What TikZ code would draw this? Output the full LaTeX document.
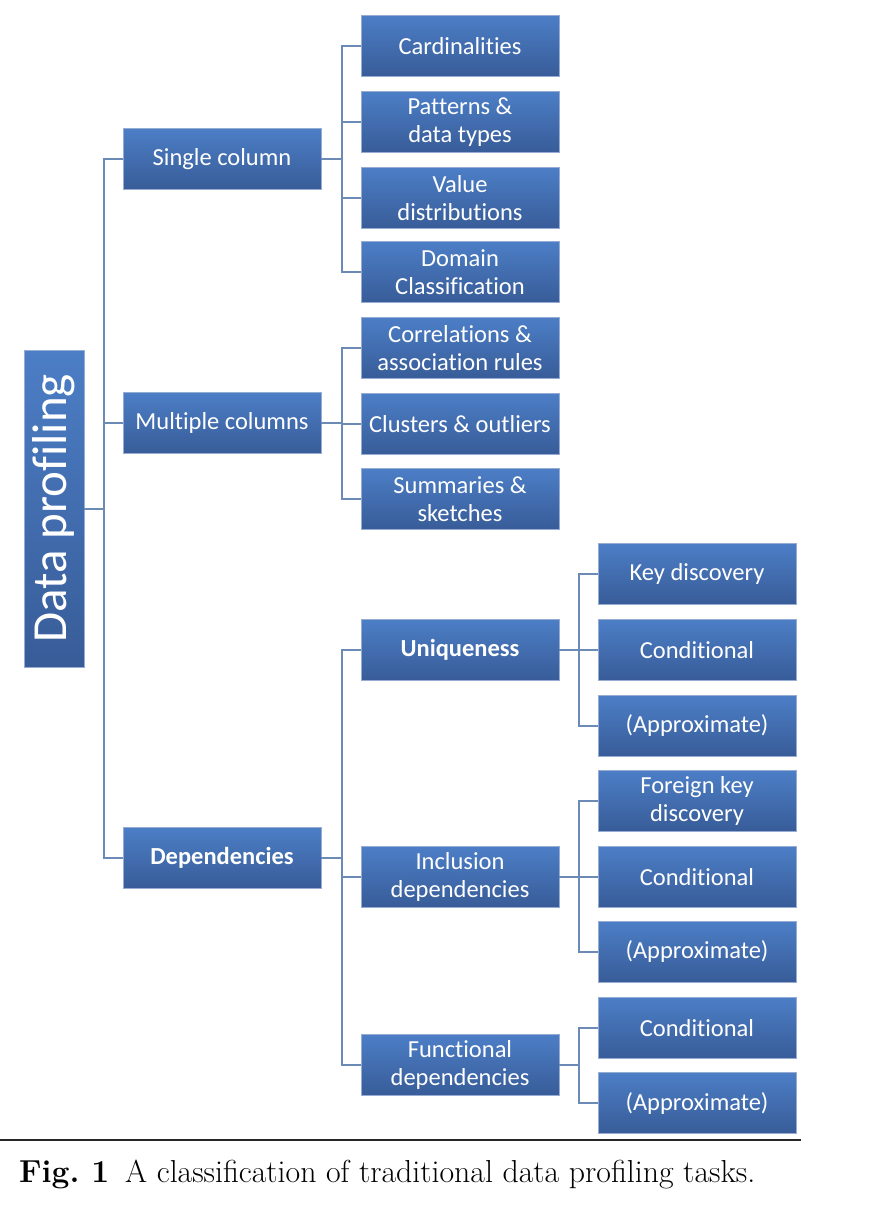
\documentclass[tikz,border=0pt]{standalone}
\usepackage{fontspec}
\newfontfamily\carlito[Ligatures={NoCommon}]{Carlito}
\definecolor{boxtop}{RGB}{76,126,198}
\definecolor{boxbot}{RGB}{56,92,152}
\definecolor{boxedge}{RGB}{150,172,210}
\definecolor{conn}{RGB}{108,138,182}
\tikzset{
  box/.style={minimum width=198pt, minimum height=61pt, inner sep=0pt,
    top color=boxtop, bottom color=boxbot, draw=boxedge, line width=0.8pt,
    text=white, align=center, font=\carlito\fontsize{24.5}{28}\selectfont},
  connline/.style={draw=conn, line width=2pt},
}
\begin{document}
\begin{tikzpicture}[x=1pt,y=-1pt]
\useasboundingbox (0,0) rectangle (876,1228);
% root
\node[box, minimum width=317pt, minimum height=60pt, rotate=90,
  font=\carlito\fontsize{49}{56}\selectfont] (dp) at (54,508.5) {Data profiling};
% level 1
\node[box] (sc) at (222,159) {Single column};
\node[box] (mc) at (222,423) {Multiple columns};
\node[box] (dep) at (222,858) {\bfseries Dependencies};
% level 2
\node[box] (card) at (460,46) {Cardinalities};
\node[box] (pat) at (460,122) {Patterns \&\\data types};
\node[box] (val) at (460,198) {Value\\distributions};
\node[box] (dom) at (460,272) {Domain\\Classification};
\node[box] (cor) at (460,348) {Correlations \&\\association rules};
\node[box] (clu) at (460,424) {Clusters \& outliers};
\node[box] (sum) at (460,499) {Summaries \&\\sketches};
\node[box] (uni) at (460,650) {\bfseries Uniqueness};
\node[box] (inc) at (460,877) {Inclusion\\dependencies};
\node[box] (fun) at (460,1065) {Functional\\dependencies};
% level 3
\node[box] (ukey) at (697,574) {Key discovery};
\node[box] (ucond) at (697,650) {Conditional};
\node[box] (uappr) at (697,726) {(Approximate)};
\node[box] (ifk) at (697,801) {Foreign key\\discovery};
\node[box] (icond) at (697,877) {Conditional};
\node[box] (iappr) at (697,952) {(Approximate)};
\node[box] (fcond) at (697,1028) {Conditional};
\node[box] (fappr) at (697,1103) {(Approximate)};
% junctions
\coordinate (j0) at (104,508.5);
\coordinate (j1) at (342,159);
\coordinate (j2) at (342,423);
\coordinate (j3) at (342,858);
\coordinate (j4) at (579,650);
\coordinate (j5) at (579,877);
\coordinate (j6) at (579,1065);
% connectors
\draw[connline] (dp.south) -- (j0);
\draw[connline] (j0) |- (sc.west);
\draw[connline] (j0) |- (mc.west);
\draw[connline] (j0) |- (dep.west);
\draw[connline] (sc.east) -- (j1);
\draw[connline] (j1) |- (card.west);
\draw[connline] (j1) |- (pat.west);
\draw[connline] (j1) |- (val.west);
\draw[connline] (j1) |- (dom.west);
\draw[connline] (mc.east) -- (j2);
\draw[connline] (j2) |- (cor.west);
\draw[connline] (j2) |- (clu.west);
\draw[connline] (j2) |- (sum.west);
\draw[connline] (dep.east) -- (j3);
\draw[connline] (j3) |- (uni.west);
\draw[connline] (j3) |- (inc.west);
\draw[connline] (j3) |- (fun.west);
\draw[connline] (uni.east) -- (j4);
\draw[connline] (j4) |- (ukey.west);
\draw[connline] (j4) |- (ucond.west);
\draw[connline] (j4) |- (uappr.west);
\draw[connline] (inc.east) -- (j5);
\draw[connline] (j5) |- (ifk.west);
\draw[connline] (j5) |- (icond.west);
\draw[connline] (j5) |- (iappr.west);
\draw[connline] (fun.east) -- (j6);
\draw[connline] (j6) |- (fcond.west);
\draw[connline] (j6) |- (fappr.west);
% rule and caption
\coordinate (rl) at (0,1140);
\coordinate (rr) at (801,1140);
\draw[line width=1.3pt, black!85] (rl) -- (rr);
\node[anchor=west, inner sep=0pt, font=\fontsize{31.8}{36}\selectfont] (cap) at (19,1174)
  {\textbf{Fig.\ 1}\enspace A classification of traditional data profiling tasks.};
\end{tikzpicture}
\end{document}
